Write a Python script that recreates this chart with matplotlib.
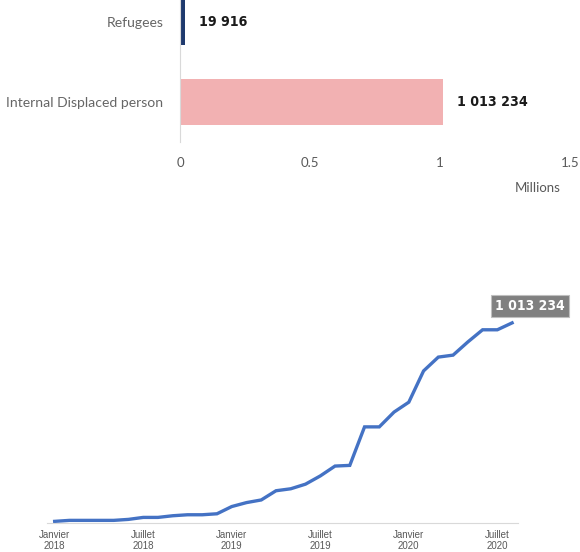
import matplotlib.pyplot as plt
from matplotlib import font_manager

# ---------------- DATA ----------------
categories = ["Internal Displaced person", "Refugees"]
counts = [1013234, 19916]
count_labels = ["1 013 234", "19 916"]
bar_colors = ["#F2B1B2", "#1F3A6E"]

months = list(range(32))  # Janvier 2018 .. Août 2020
idp_values = [8300, 13300, 13300, 13300, 13300, 18300, 28300, 28300,
              36700, 41700, 41700, 46700, 83300, 103300, 116700, 163300,
              173300, 196700, 238300, 288300, 291700, 486700, 486700, 561700,
              611700, 770000, 840000, 850000, 916700, 978300, 978300, 1013234]
tick_months = [0, 6, 12, 18, 24, 30]
tick_labels = ["Janvier\n2018", "Juillet\n2018", "Janvier\n2019",
               "Juillet\n2019", "Janvier\n2020", "Juillet\n2020"]

# condensed bold face for the value labels, if one is installed
narrow = None
for f in font_manager.fontManager.ttflist:
    n = f.fname.lower()
    if "condensed" in n and "bold" in n and "oblique" not in n and "italic" not in n and "sans" in n:
        narrow = f.fname
        break
if narrow:
    value_font = font_manager.FontProperties(fname=narrow)
else:
    value_font = font_manager.FontProperties(family="DejaVu Sans", weight="bold")

W, H = 580, 552
fig = plt.figure(figsize=(W / 100, H / 100), dpi=100)

# ---------------- BAR CHART ----------------
ax1 = fig.add_axes([180 / W, 1 - 142 / H, 390 / W, 142 / H])
ax1.barh([0, 1], [c / 1e6 for c in counts], height=0.575, color=bar_colors)
ax1.set_xlim(0, 1.5)
ax1.set_ylim(-0.5, 1.275)
ax1.set_yticks([0, 1])
ax1.set_yticklabels(categories, family=["Lato", "DejaVu Sans"], fontsize=10.1, color="#666666")
ax1.set_xticks([0, 0.5, 1, 1.5])
ax1.set_xticklabels(["0", "0.5", "1", "1.5"], family=["Lato", "DejaVu Sans"], fontsize=9.5, color="#595959")
ax1.tick_params(length=0)
ax1.tick_params(axis="x", pad=11)
ax1.tick_params(axis="y", pad=12)
for s in ["top", "right", "bottom"]:
    ax1.spines[s].set_visible(False)
ax1.spines["left"].set_color("#D9D9D9")
for i, c in enumerate(counts):
    ax1.annotate(count_labels[i], (c / 1e6, i), xytext=(10, 0), textcoords="offset points",
                 va="center", ha="left", fontproperties=value_font, fontsize=10.2,
                 color="#1a1a1a")
fig.text(538 / W, 1 - 188 / H, "Millions", ha="center", va="center", fontsize=9.5,
         color="#595959", family=["Lato", "DejaVu Sans"])

# ---------------- LINE CHART ----------------
ax2 = fig.add_axes([47 / W, 29 / H, 471 / W, 237 / H])
ax2.plot(months, idp_values, color="#4472C4", linewidth=2.4, solid_joinstyle="miter")
ax2.set_xlim(-0.52, 31.4)
ax2.set_ylim(0, 1200000)
ax2.set_yticks([])
ax2.set_xticks(tick_months)
ax2.set_xticklabels(tick_labels, fontsize=7, color="#595959",
                    family=["Liberation Sans", "DejaVu Sans"], linespacing=1.1)
ax2.tick_params(length=0, pad=5)
for s in ["top", "right", "left"]:
    ax2.spines[s].set_visible(False)
ax2.spines["bottom"].set_color("#D9D9D9")
ax2.annotate(count_labels[0], (months[-1], idp_values[-1]), xytext=(13, 12),
             textcoords="offset points", ha="center", va="center",
             fontproperties=value_font, fontsize=10, color="white",
             bbox=dict(boxstyle="square,pad=0.3", fc="#808080", ec="#BFBFBF", lw=0.8))

fig.savefig("out.png", dpi=100)
